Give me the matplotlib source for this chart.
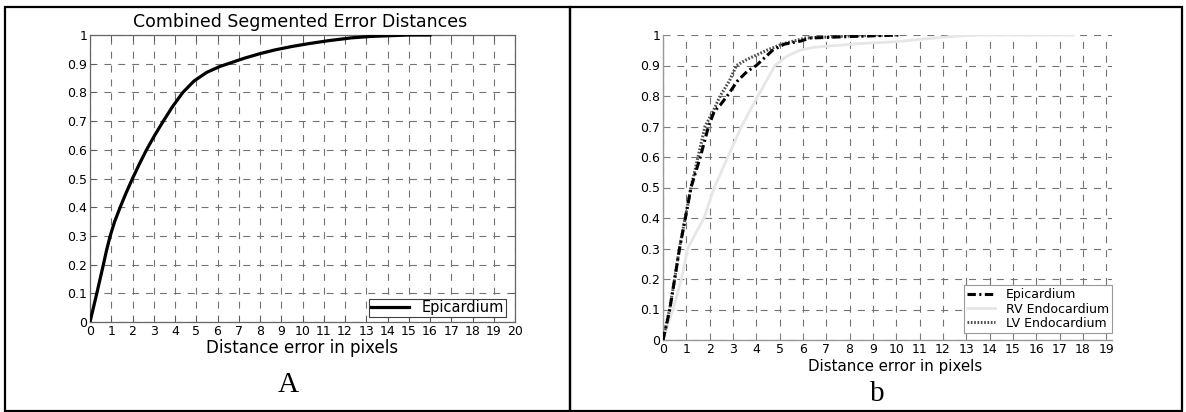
import matplotlib
matplotlib.use("Agg")
import matplotlib.pyplot as plt
from matplotlib.patches import Rectangle

# ---------------- data ----------------
left_title = "Combined Segmented Error Distances"
xlabel_text = "Distance error in pixels"

left_epi_x = [0, 0.16, 0.32, 0.63, 0.78, 0.95, 1.16, 1.42, 1.7, 2.0, 2.32, 2.66, 3.04,
              3.45, 3.88, 4.37, 4.9, 5.5, 6.1, 6.7, 7.3, 8.0, 8.7, 9.5, 10.3, 11.2,
              12.3, 13.2, 15.0, 16.0]
left_epi_y = [0, 0.05, 0.1, 0.2, 0.25, 0.3, 0.35, 0.4, 0.45, 0.5, 0.55, 0.6, 0.65,
              0.7, 0.75, 0.8, 0.84, 0.87, 0.89, 0.905, 0.92, 0.935, 0.948, 0.96, 0.97,
              0.98, 0.99, 0.995, 1.0, 1.0]

epi_x = [0, 0.15, 0.29, 0.5, 0.71, 0.96, 1.2, 1.4, 1.6, 1.95, 2.2, 2.45, 2.75, 3.2,
         3.6, 4.0, 4.7, 5.2, 5.9, 6.3, 8.0, 10.2]
epi_y = [0, 0.05, 0.1, 0.2, 0.3, 0.4, 0.5, 0.55, 0.6, 0.7, 0.75, 0.77, 0.8, 0.85,
         0.88, 0.9, 0.95, 0.97, 0.98, 0.99, 0.995, 1.0]

rv_x = [0, 0.2, 0.43, 0.79, 1.06, 1.4, 1.76, 2.2, 2.78, 3.36, 4.07, 4.8, 5.3, 5.86,
        6.5, 8.45, 10.0, 11.3, 12.7, 13.5, 17.6]
rv_y = [0, 0.05, 0.1, 0.2, 0.3, 0.35, 0.4, 0.5, 0.6, 0.7, 0.8, 0.9, 0.93, 0.95,
        0.96, 0.972, 0.978, 0.988, 0.997, 1.0, 1.0]

lv_x = [0, 0.14, 0.28, 0.5, 0.7, 0.95, 1.2, 1.5, 1.8, 2.15, 2.45, 2.85, 3.15, 3.6,
        4.45, 5.1, 5.6, 6.1, 8.0, 10.0]
lv_y = [0, 0.05, 0.1, 0.2, 0.3, 0.4, 0.5, 0.6, 0.7, 0.75, 0.8, 0.85, 0.9, 0.92,
        0.95, 0.97, 0.98, 0.99, 0.997, 1.0]

left_xticks = list(range(0, 21))
right_xticks = list(range(0, 20))
yticks = [0, 0.1, 0.2, 0.3, 0.4, 0.5, 0.6, 0.7, 0.8, 0.9, 1]
ytick_labels = ["0", "0.1", "0.2", "0.3", "0.4", "0.5", "0.6", "0.7", "0.8", "0.9", "1"]

# ---------------- figure ----------------
plt.rcParams['font.family'] = ['DejaVu Sans']
plt.rcParams['lines.scale_dashes'] = False
W, H = 1186, 412
fig = plt.figure(figsize=(W / 100, H / 100), dpi=100)


def fx(px):
    return px / W


def fy(py):
    return 1 - py / H


grid_kw = dict(color='0.45', linestyle=(0, (5, 5)), linewidth=0.8)

# ---- left axes ----
axL = fig.add_axes([fx(90), fy(322), fx(515) - fx(90), fy(35) - fy(322)])
axL.plot(left_epi_x, left_epi_y, color='black', linewidth=2.3, label='Epicardium', zorder=3)
axL.set_xlim(0, 20)
axL.set_ylim(0, 1)
axL.set_xticks(left_xticks)
axL.set_xticklabels([str(v) for v in left_xticks])
axL.set_yticks(yticks)
axL.set_yticklabels(ytick_labels)
axL.grid(True, **grid_kw)
axL.set_axisbelow(True)
axL.tick_params(direction='in', length=4, width=0.7, top=True, right=True,
                labelsize=9, pad=2, color='0.35')
for s in axL.spines.values():
    s.set_color('0.4')
    s.set_linewidth(0.9)
leg = axL.legend(loc='lower right', bbox_to_anchor=(0.979, 0.017), borderaxespad=0,
                 fontsize=10.5, fancybox=False, framealpha=1, edgecolor='0.25',
                 handlelength=2.6, borderpad=0.12, handletextpad=0.9)
leg.get_frame().set_linewidth(0.8)
fig.text(fx(300), fy(22), left_title, ha='center', va='center', fontsize=12.5)
fig.text(fx(302), fy(348), xlabel_text, ha='center', va='center', fontsize=12)
fig.text(fx(288), fy(385), "A", ha='center', va='center', fontsize=21,
         family=['Liberation Serif', 'DejaVu Serif'])

# ---- right axes ----
axR = fig.add_axes([fx(663), fy(340), fx(1112) - fx(663), fy(35) - fy(340)])
axR.plot(epi_x, epi_y, color='black', linewidth=2.2, linestyle=(0, (6, 2.5, 1.5, 2.5)),
         label='Epicardium', zorder=4)
axR.plot(rv_x, rv_y, color='0.9', linewidth=2.0, linestyle='-',
         label='RV Endocardium', zorder=3)
axR.plot(lv_x, lv_y, color='0.3', linewidth=2.2, linestyle=(0, (1.2, 1.2)),
         label='LV Endocardium', zorder=3)
axR.set_xlim(0, 19.25)
axR.set_ylim(0, 1)
axR.set_xticks(right_xticks)
axR.set_xticklabels([str(v) for v in right_xticks])
axR.set_yticks(yticks)
axR.set_yticklabels(ytick_labels)
axR.grid(True, **grid_kw)
axR.set_axisbelow(True)
axR.tick_params(direction='in', length=4, width=0.7, labelsize=9, pad=2, color='0.5')
axR.spines['top'].set_visible(False)
axR.spines['right'].set_visible(False)
for k in ('left', 'bottom'):
    axR.spines[k].set_color('0.6')
    axR.spines[k].set_linewidth(1.0)
legR = axR.legend(loc='lower right', bbox_to_anchor=(1.0, 0.023), borderaxespad=0,
                  fontsize=9, fancybox=False, framealpha=1, edgecolor='0.6',
                  handlelength=2.2, borderpad=0.25, handletextpad=0.9, labelspacing=0.1)
legR.get_frame().set_linewidth(0.8)
fig.text(fx(895), fy(367), xlabel_text, ha='center', va='center', fontsize=10.8)
fig.text(fx(877), fy(394), "b", ha='center', va='center', fontsize=21,
         family=['Liberation Serif', 'DejaVu Serif'])

# ---- panel frames ----
fig.add_artist(Rectangle((fx(5), fy(411)), fx(570) - fx(5), fy(7) - fy(411),
                         transform=fig.transFigure, fill=False, edgecolor='black', linewidth=1.6))
fig.add_artist(Rectangle((fx(570), fy(411)), fx(1182) - fx(570), fy(7) - fy(411),
                         transform=fig.transFigure, fill=False, edgecolor='black', linewidth=1.6))

fig.savefig("out.png", dpi=100)
